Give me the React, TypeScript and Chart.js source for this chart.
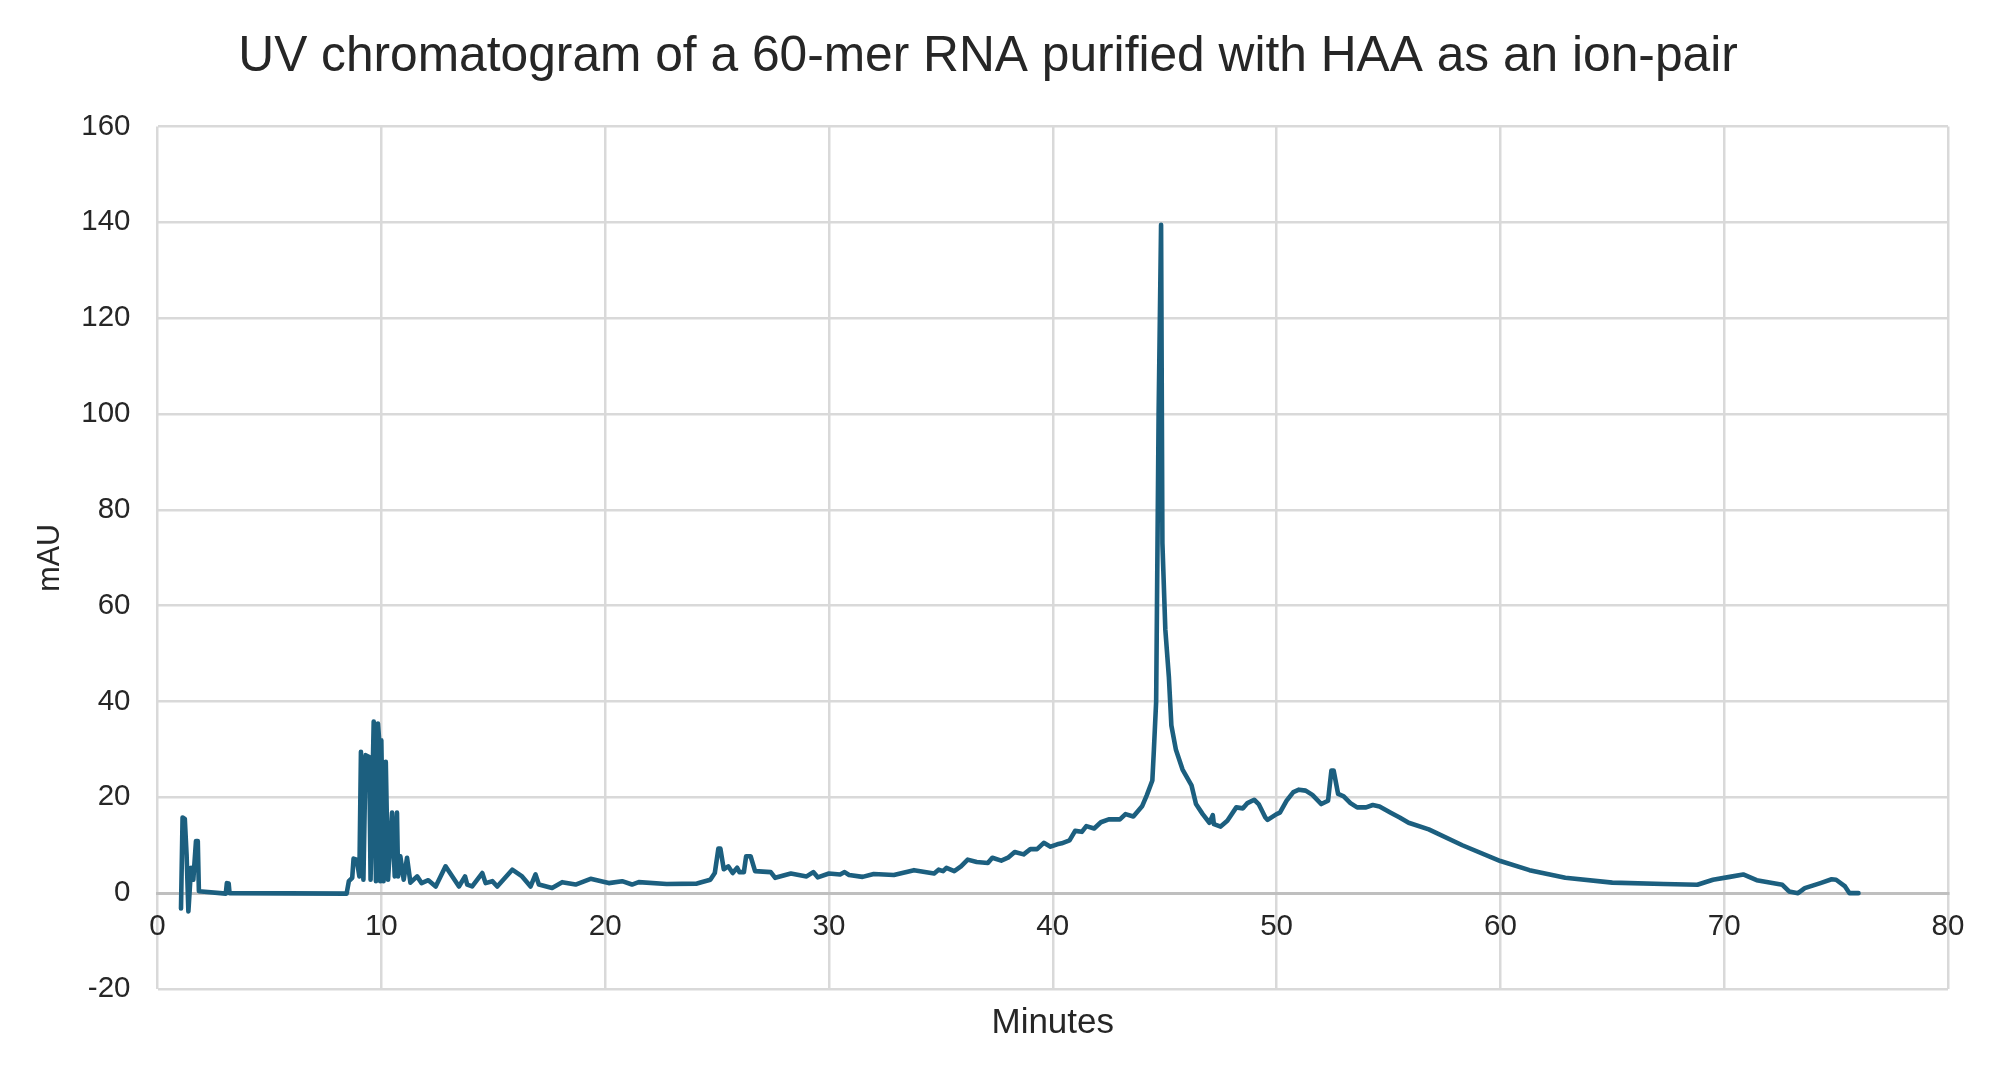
import React, { useEffect, useRef } from "react";
import { Chart, registerables } from "chart.js";

Chart.register(...registerables);

const TITLE = "UV chromatogram of a 60-mer RNA purified with HAA as an ion-pair";
const X_TITLE = "Minutes";
const Y_TITLE = "mAU";

const minutes: number[] = [
  1.05, 1.12, 1.22, 1.3, 1.38, 1.5, 1.6, 1.72, 1.8, 1.85,
  3.05, 3.1, 3.18, 3.22, 8.45,
  8.55, 8.7, 8.76, 8.9, 9.02, 9.09, 9.2, 9.3, 9.46, 9.52,
  9.66, 9.76, 9.85, 9.9, 9.95, 10.0, 10.1, 10.2, 10.3, 10.48,
  10.6, 10.7, 10.75, 10.85, 11.0, 11.15, 11.3, 11.6, 11.8, 12.1,
  12.43, 12.87, 13.47, 13.74, 13.84, 14.06, 14.51, 14.66, 14.96, 15.18,
  15.85, 16.29, 16.67, 16.89, 17.04, 17.63, 18.08, 18.68, 19.35, 20.16,
  20.76, 21.2, 21.5, 22.75, 24.1, 24.7, 24.9, 25.06, 25.15, 25.3,
  25.5, 25.7, 25.9, 26.0, 26.2, 26.3, 26.5, 26.7, 27.4, 27.6,
  28.3, 29.0, 29.3, 29.5, 30.0, 30.5, 30.7, 30.9, 31.5, 32.0,
  32.9, 33.8, 34.7, 34.9, 35.1, 35.25, 35.6, 35.9, 36.2, 36.6,
  37.1, 37.3, 37.7, 38.0, 38.3, 38.7, 39.0, 39.3, 39.6, 39.9,
  40.2, 40.4, 40.75, 41.0, 41.3, 41.5, 41.85, 42.15, 42.5, 43.0,
  43.25, 43.6, 44.0, 44.2, 44.45, 44.52, 44.62, 44.73, 44.84, 44.9,
  45.03, 45.19, 45.3, 45.5, 45.8, 46.2, 46.4, 46.7, 47.0, 47.15,
  47.2, 47.5, 47.8, 48.2, 48.5, 48.7, 49.0, 49.2, 49.5, 49.6,
  50.0, 50.15, 50.45, 50.75, 51.0, 51.3, 51.6, 52.0, 52.3, 52.45,
  52.55, 52.75, 53.0, 53.3, 53.6, 54.0, 54.3, 54.6, 55.1, 55.5,
  55.9, 56.8, 58.3, 60.0, 61.3, 62.9, 65.0, 67.3, 68.8, 69.5,
  70.25, 70.85, 71.45, 72.6, 72.9, 73.3, 73.6, 74.3, 74.8, 75.0,
  75.4, 75.6, 76.0,
];

const mAU: number[] = [
  -3.2, 15.8, 15.5, 8, -3.8, 5.3, 2.8, 10.9, 10.9, 0.4,
  -0.1, 2.1, 2.0, 0, -0.1,
  2.5, 3.2, 7.2, 7.0, 3.5, 29.5, 2.8, 28.8, 28.4, 2.8,
  35.8, 2.5, 35.4, 32.3, 2.5, 31.9, 2.5, 27.4, 2.8, 16.8,
  3.5, 16.8, 3.5, 7.7, 2.8, 7.4, 2.2, 3.5, 2.1, 2.7,
  1.4, 5.6, 1.4, 3.5, 1.8, 1.4, 4.2, 2.1, 2.5, 1.4,
  4.9, 3.5, 1.4, 3.9, 1.8, 1.1, 2.3, 1.8, 3.0, 2.1,
  2.5, 1.8, 2.3, 1.9, 2.0, 2.8, 4.2, 9.3, 9.3, 5.0,
  5.6, 4.2, 5.3, 4.4, 4.4, 7.7, 7.7, 4.6, 4.4, 3.2,
  4.1, 3.5, 4.4, 3.3, 4.1, 3.9, 4.4, 3.8, 3.4, 4.0,
  3.8, 4.8, 4.1, 4.9, 4.6, 5.3, 4.6, 5.6, 7.0, 6.5,
  6.3, 7.4, 6.8, 7.4, 8.6, 8.1, 9.2, 9.2, 10.5, 9.7,
  10.2, 10.4, 11.0, 13.0, 12.8, 14.0, 13.5, 14.8, 15.4, 15.4,
  16.5, 16.0, 18.2, 20.4, 23.5, 30, 40, 100, 139.5, 73,
  55, 45, 35, 30, 25.8, 22.5, 18.6, 16.5, 14.7, 16.3,
  14.4, 13.9, 15.1, 17.9, 17.7, 18.8, 19.5, 18.6, 15.8, 15.3,
  16.5, 16.8, 19.3, 21.1, 21.6, 21.4, 20.5, 18.6, 19.3, 25.6,
  25.6, 20.7, 20.2, 18.8, 17.9, 17.9, 18.4, 18.1, 16.8, 15.8,
  14.7, 13.3, 10.0, 6.7, 4.8, 3.2, 2.2, 1.9, 1.75, 2.8,
  3.4, 3.9, 2.7, 1.75, 0.35, 0, 1.05, 2.1, 2.9, 2.8,
  1.4, 0, 0,
];

const X_MIN = 0;
const X_MAX = 80;
const X_STEP = 10;
const Y_MIN = -20;
const Y_MAX = 160;
const Y_STEP = 20;

const FONT = "'Liberation Sans', Arial, sans-serif";
const TEXT_COLOR = "#262626";
const GRID_COLOR = "#d9d9d9";
const LINE_COLOR = "#1c5f7f";

const titlePlugin = {
  id: "customTitle",
  afterDraw(chart: any) {
    const ctx = chart.ctx;
    ctx.save();
    ctx.font = `49.7px ${FONT}`;
    ctx.fillStyle = TEXT_COLOR;
    ctx.textAlign = "center";
    ctx.textBaseline = "alphabetic";
    ctx.fillText(TITLE, 988, 71);
    ctx.restore();
  },
};

export default function App() {
  const canvasRef = useRef<HTMLCanvasElement | null>(null);

  useEffect(() => {
    document.body.style.margin = "0";
    const canvas = canvasRef.current;
    if (!canvas) return;
    const points = minutes.map((m, i) => ({ x: m, y: mAU[i] }));
    const chart = new Chart(canvas, {
      type: "line",
      data: {
        datasets: [
          {
            data: points,
            borderColor: LINE_COLOR,
            backgroundColor: LINE_COLOR,
            borderWidth: 4.6,
            pointRadius: 0,
            tension: 0,
            fill: false,
            borderJoinStyle: "round",
            borderCapStyle: "round",
          },
        ],
      },
      plugins: [titlePlugin],
      options: {
        animation: false,
        responsive: true,
        maintainAspectRatio: false,
        layout: { padding: { top: 126.5, right: 52, left: 0, bottom: 0 } },
        plugins: {
          legend: { display: false },
          title: { display: false },
          tooltip: { enabled: false },
        },
        scales: {
          x: {
            type: "linear",
            min: X_MIN,
            max: X_MAX,
            position: { y: 0 },
            ticks: {
              stepSize: X_STEP,
              color: TEXT_COLOR,
              font: { family: FONT, size: 29.5 },
              padding: 16,
              maxRotation: 0,
            },
            grid: { color: GRID_COLOR, lineWidth: 2.5, drawTicks: false },
            border: { display: true, color: "#bfbfbf", width: 3 },
            afterFit: (scale: any) => {
              scale.height = 0;
            },
          },
          x2: {
            type: "linear",
            min: X_MIN,
            max: X_MAX,
            position: "bottom",
            ticks: { display: false },
            grid: { display: false, drawTicks: false },
            border: { display: false },
            title: {
              display: true,
              text: X_TITLE,
              color: TEXT_COLOR,
              font: { family: FONT, size: 35 },
              padding: { top: 0, bottom: 30 },
            },
            afterFit: (scale: any) => {
              scale.height = 85;
            },
          },
          y: {
            type: "linear",
            min: Y_MIN,
            max: Y_MAX,
            ticks: {
              stepSize: Y_STEP,
              color: TEXT_COLOR,
              font: { family: FONT, size: 29.5 },
              padding: 27,
            },
            grid: { color: GRID_COLOR, lineWidth: 2.5, drawTicks: false },
            border: { display: false },
            title: {
              display: true,
              text: Y_TITLE,
              color: TEXT_COLOR,
              font: { family: FONT, size: 30.5 },
              padding: { top: 32.5, bottom: 0 },
            },
            afterFit: (scale: any) => {
              scale.width = 157.5;
            },
          },
        },
      },
    });
    return () => chart.destroy();
  }, []);

  return (
    <div
      style={{
        position: "fixed",
        left: 0,
        top: 0,
        width: 2000,
        height: 1074,
        background: "#ffffff",
      }}
    >
      <canvas ref={canvasRef} />
    </div>
  );
}
